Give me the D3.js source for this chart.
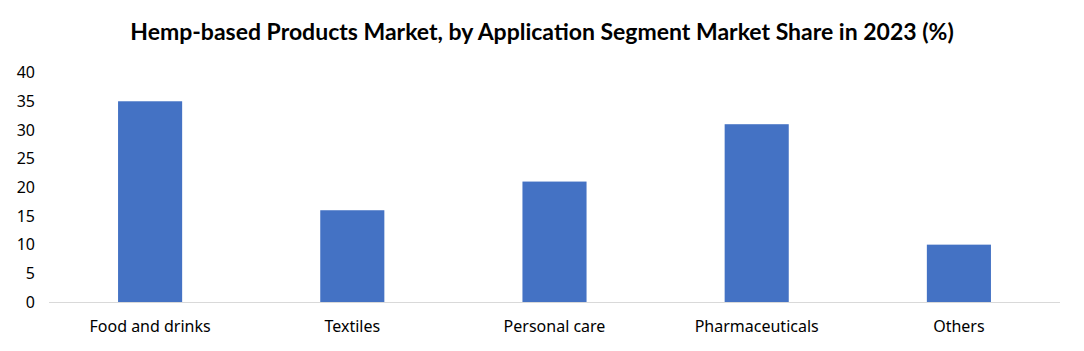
<!DOCTYPE html>
<html>
<head>
<meta charset="utf-8">
<script src="https://cdn.jsdelivr.net/npm/d3@7"></script>
<style>
  body { margin: 0; background: #fff; }
  text { font-family: "Noto Sans", "Open Sans", sans-serif; }
</style>
</head>
<body>
<svg id="chart"></svg>
<script>
// data
const categories = ["Food and drinks", "Textiles", "Personal care", "Pharmaceuticals", "Others"];
const shares = [35, 16, 21, 31, 10];
const yTicks = [0, 5, 10, 15, 20, 25, 30, 35, 40];
const title = "Hemp-based Products Market, by Application Segment Market Share in 2023 (%)";

const width = 1084;
const height = 351;
const margin = { left: 49, right: 24, top: 72.6, bottom: 49 };

const svg = d3.select('svg#chart').attr('width', width).attr('height', height)

const x = d3.scaleBand()
  .domain(categories)
  .range([margin.left, width - margin.right])
  .paddingInner(0.683)
  .paddingOuter(0.3415)

const y = d3.scaleLinear()
  .domain([0, 40])
  .range([height - margin.bottom, margin.top])

// title
svg.append('text')
  .attr('x', 542)
  .attr('y', 40)
  .attr('text-anchor', 'middle')
  .style('font-family', 'Lato, "Open Sans", sans-serif')
  .style('font-weight', 'bold')
  .style('font-size', '23px')
  .attr('fill', '#000')
  .text(title)

// y axis labels (no line)
svg.append('g').selectAll('text').data(yTicks).enter().append('text')
  .attr('x', 35)
  .attr('y', d => y(d))
  .attr('dy', '0.35em')
  .attr('text-anchor', 'end')
  .style('font-size', '16px')
  .attr('fill', '#000')
  .text(d => d)

// bars
svg.append('g').selectAll('rect').data(shares).enter().append('rect')
  .attr('x', (d, i) => x(categories[i]))
  .attr('y', d => y(d))
  .attr('width', x.bandwidth())
  .attr('height', d => y(0) - y(d))
  .attr('fill', '#4472c4')

// baseline
svg.append('line')
  .attr('x1', margin.left).attr('x2', width - margin.right)
  .attr('y1', y(0) + 0.5).attr('y2', y(0) + 0.5)
  .attr('stroke', '#d9d9d9')
  .attr('stroke-width', 1)

// category labels
svg.append('g').selectAll('text').data(categories).enter().append('text')
  .attr('x', d => x(d) + x.bandwidth() / 2)
  .attr('y', 332)
  .attr('text-anchor', 'middle')
  .style('font-size', '16px')
  .attr('fill', '#000')
  .text(d => d)
</script>
</body>
</html>
